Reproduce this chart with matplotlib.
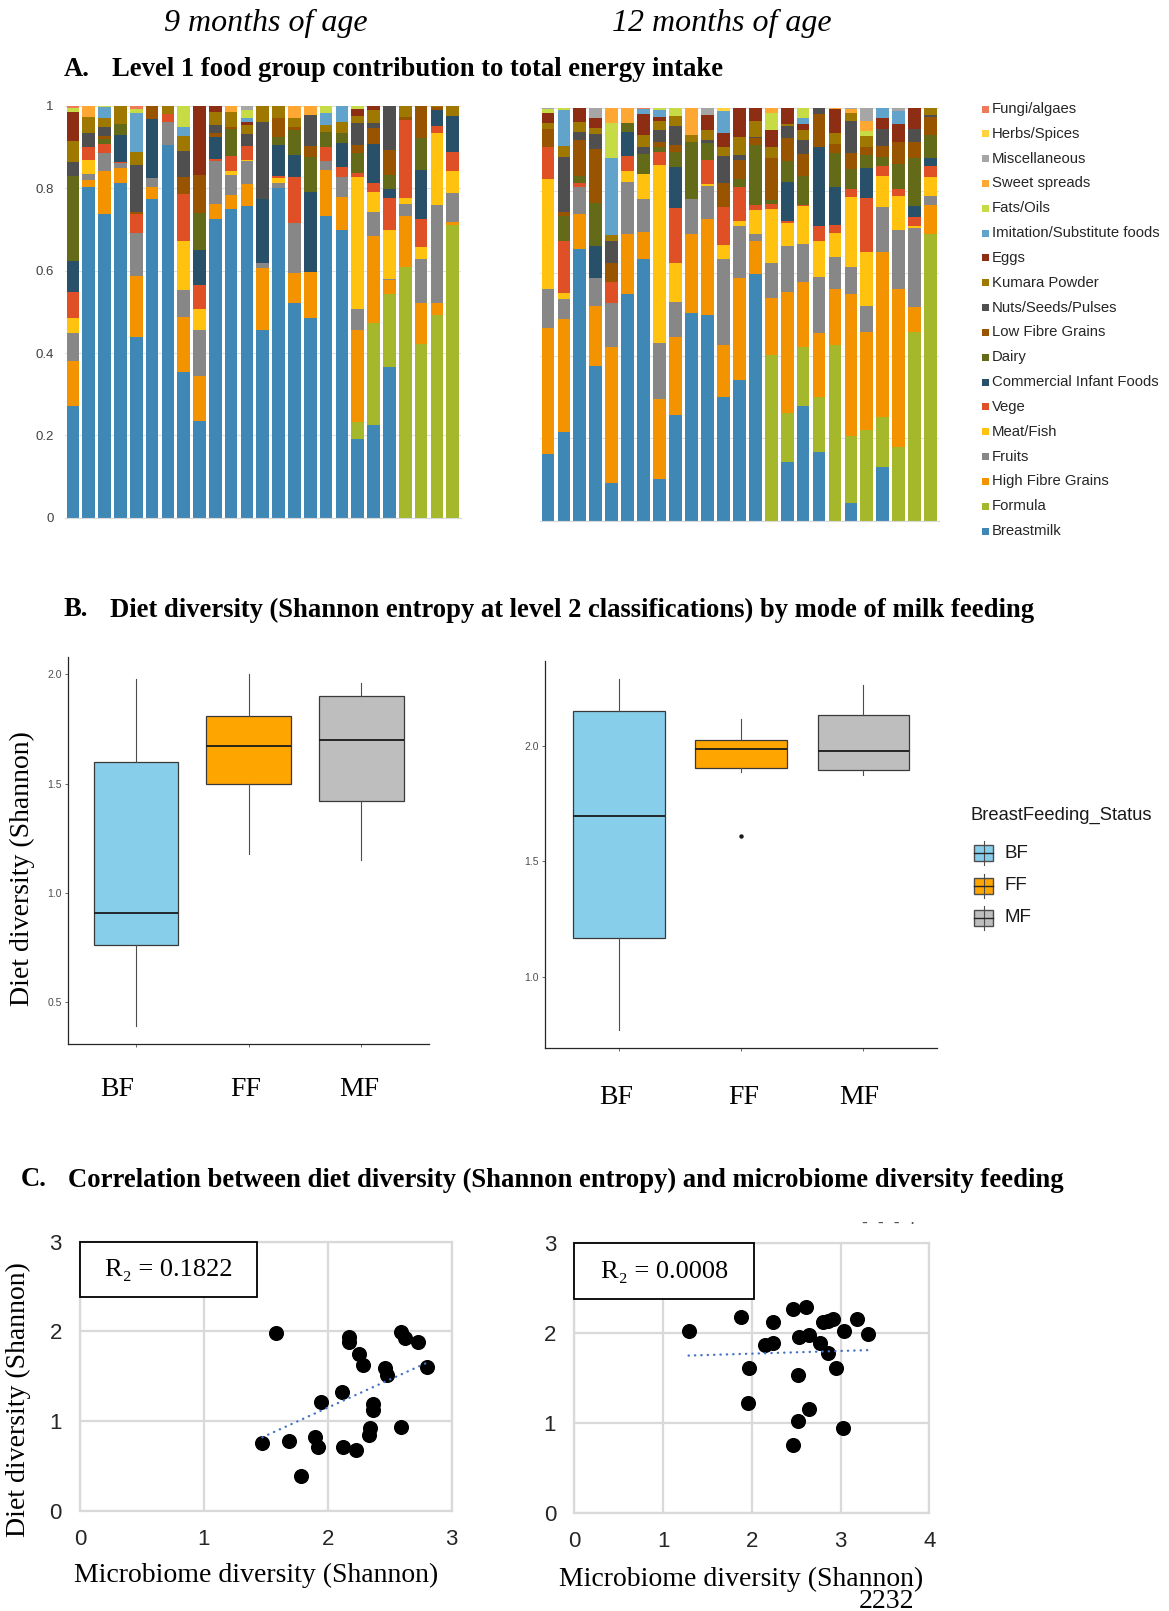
import matplotlib.pyplot as plt
from matplotlib.patches import Rectangle
import numpy as np

W, H, DPI = 1169, 1611, 100

SERIF = ["Liberation Serif", "DejaVu Serif"]
SANS = ["Liberation Sans", "DejaVu Sans"]

plt.rcParams["font.family"] = SANS

# ---- A. level 1 food group shares of energy intake (bottom of stack first) ----
food_groups = ["Breastmilk", "Formula", "High Fibre Grains", "Fruits", "Meat/Fish", "Vege",
               "Commercial Infant Foods", "Dairy", "Low Fibre Grains", "Nuts/Seeds/Pulses",
               "Kumara Powder", "Eggs", "Imitation/Substitute foods", "Fats/Oils",
               "Sweet spreads", "Miscellaneous", "Herbs/Spices", "Fungi/algaes"]
group_colors = ["#3F87B5", "#A5B82B", "#F49300", "#878787", "#FFC20E", "#E05026",
                "#285069", "#636B18", "#995400", "#4F4F4F",
                "#9E7800", "#8C2D14", "#62A3CC", "#C7DB45",
                "#FFA733", "#A6A6A6", "#FFD23F", "#EE7A5A"]

# 9 months
bm_9m = [.271, .804, .738, .814, .440, .773, .905, .355, .236, .725, .751, .757, .456, .800, .521, .486, .734, .700, .191, .225, .367, 0, 0, 0, 0]
fo_9m = [0, 0, 0, 0, 0, 0, 0, 0, 0, 0, 0, 0, 0, 0, 0, 0, 0, 0, .041, .247, .176, .610, .423, .492, .711]
hf_9m = [.110, .016, .104, .035, .147, .031, 0, .133, .108, .036, .033, .053, .151, 0, .074, .112, .111, .078, .224, .212, .034, .123, .099, .029, .008]
fr_9m = [.068, .015, .043, .012, .105, .022, .057, .065, .112, .106, .048, .056, .012, .012, .122, 0, .022, .050, .052, .058, .004, .028, .106, .239, .069]
mf_9m = [.035, .034, 0, 0, 0, 0, 0, .119, .050, 0, .011, .004, 0, .014, 0, 0, 0, 0, .319, .048, .118, .015, .030, .175, .054]
vg_9m = [.065, .032, .022, .004, .046, 0, .019, .114, .059, .004, .036, .033, 0, .004, .110, 0, .033, .023, .011, .022, .078, .190, .067, .016, .047]
ci_9m = [.075, 0, 0, .065, 0, .142, 0, 0, .085, .054, 0, 0, .154, .075, .054, .194, 0, .058, 0, .096, .021, 0, .120, .039, .087]
da_9m = [.206, 0, .012, .026, 0, 0, 0, 0, .089, 0, .064, 0, 0, .020, .061, .085, .038, .025, .049, 0, .034, 0, .078, 0, 0]
lf_9m = [0, 0, .009, 0, .005, .032, 0, .042, .093, .009, .005, 0, 0, .045, .008, .026, 0, 0, .018, .038, .061, .008, .077, .007, 0]
ns_9m = [.035, .033, .022, 0, .114, 0, 0, .063, 0, .020, 0, .028, .189, 0, 0, .075, 0, 0, .053, .012, .107, 0, 0, 0, 0]
kp_9m = [.050, .040, .022, .044, .032, 0, .019, .035, 0, .032, .038, .024, .038, .030, .020, 0, .016, .028, .018, .032, 0, .026, 0, .003, .024]
eg_9m = [.071, 0, 0, 0, 0, 0, 0, 0, .168, .014, 0, .005, 0, 0, 0, 0, 0, 0, .016, .010, 0, 0, 0, 0, 0]
im_9m = [0, 0, .025, 0, .093, 0, 0, .024, 0, 0, 0, .012, 0, 0, 0, 0, .030, .038, 0, 0, 0, 0, 0, 0, 0]
fa_9m = [.008, 0, .003, 0, .010, 0, 0, .050, 0, 0, 0, .018, 0, 0, 0, 0, .016, 0, .008, 0, 0, 0, 0, 0, 0]
ss_9m = [0, .026, 0, 0, 0, 0, 0, 0, 0, 0, .014, 0, 0, 0, .030, .022, 0, 0, 0, 0, 0, 0, 0, 0, 0]
mi_9m = [0, 0, 0, 0, 0, 0, 0, 0, 0, 0, 0, .010, 0, 0, 0, 0, 0, 0, 0, 0, 0, 0, 0, 0, 0]
hs_9m = [0] * 25
fu_9m = [.006, 0, 0, 0, .008, 0, 0, 0, 0, 0, 0, 0, 0, 0, 0, 0, 0, 0, 0, 0, 0, 0, 0, 0, 0]

# 12 months
bm_12m = [.162, .216, .660, .376, .092, .549, .635, .102, .256, .504, .499, .299, .341, .598, 0, .143, .278, .167, 0, .042, 0, .131, 0, 0, 0]
fo_12m = [0, 0, 0, 0, 0, 0, 0, 0, 0, 0, 0, 0, 0, 0, .403, .119, .142, .132, .426, .163, .220, .121, .179, .458, .694]
hf_12m = [.306, .272, .084, .145, .328, .146, .066, .192, .189, .191, .232, .126, .247, .080, .136, .293, .160, .157, .135, .345, .238, .399, .384, .059, .072]
fr_12m = [.095, .050, .064, .068, .109, .127, .078, .136, .085, .084, .081, .209, .127, .017, .087, .110, .090, .136, .078, .064, .063, .109, .142, .192, .022]
mf_12m = [.265, .013, 0, 0, 0, .027, .061, .433, .094, 0, .004, .035, .012, .058, .129, .058, .092, .086, .058, .170, .131, .076, .082, .006, .045]
vg_12m = [.077, .128, .010, 0, .050, .035, 0, .032, .135, 0, .059, .091, .081, .013, .012, .004, .004, .037, .020, .020, .131, .024, .018, .021, .026]
ci_12m = [0, 0, 0, .076, 0, .059, 0, 0, .098, 0, 0, 0, 0, 0, 0, .095, 0, .190, .091, 0, .073, 0, 0, .028, .020]
da_12m = [0, .060, .018, .105, 0, .021, .049, .012, .038, .140, .042, 0, .020, .145, .011, .051, .070, 0, .083, .049, .031, .023, .060, .115, .056]
lf_12m = [.044, .010, .087, .131, .045, 0, 0, .012, .016, 0, 0, .060, .047, .016, .102, .054, .053, .081, .022, .038, .020, .026, .053, .039, .045]
ns_12m = [0, .134, .020, .036, .055, 0, .016, .028, .045, 0, .006, .064, .011, .004, 0, .030, .033, .014, 0, .078, 0, .040, 0, .031, .004]
kp_12m = [.015, .026, .023, .016, .014, 0, .030, .021, .025, .016, .024, .023, .045, .037, .025, .004, .025, 0, .028, .020, .026, 0, 0, 0, .016]
eg_12m = [.025, 0, .034, .024, 0, 0, .051, .012, 0, 0, .037, .032, .069, .032, .042, .039, .014, 0, .057, 0, 0, .027, .043, .051, 0]
im_12m = [0, .088, 0, 0, .187, 0, .012, .016, 0, 0, 0, .055, 0, 0, 0, 0, .015, 0, 0, 0, 0, .024, .033, 0, 0]
fa_12m = [.009, .003, 0, 0, .085, 0, 0, .004, .019, 0, 0, 0, 0, 0, .041, 0, .024, 0, 0, 0, .013, 0, 0, 0, 0]
ss_12m = [0, 0, 0, 0, .035, .036, 0, 0, 0, .065, 0, 0, 0, 0, .012, 0, 0, 0, .002, .009, .024, 0, 0, 0, 0]
mi_12m = [.002, 0, 0, .023, 0, 0, 0, 0, 0, 0, .016, 0, 0, 0, 0, 0, 0, 0, 0, .002, .030, 0, .006, 0, 0]
hs_12m = [0, 0, 0, 0, 0, 0, 0, 0, 0, 0, 0, .006, 0, 0, 0, 0, 0, 0, 0, 0, 0, 0, 0, 0, 0]
fu_12m = [0, 0, 0, 0, 0, 0, .002, 0, 0, 0, 0, 0, 0, 0, 0, 0, 0, 0, 0, 0, 0, 0, 0, 0, 0]

# ---- B. diet diversity by mode of milk feeding ----
feed_groups = ["BF", "FF", "MF"]
feed_colors = ["#87CEEB", "#FFA500", "#BEBEBE"]

whislo_9m = [0.39, 1.18, 1.15]
q1_9m = [0.76, 1.50, 1.42]
med_9m = [0.91, 1.67, 1.70]
q3_9m = [1.60, 1.81, 1.90]
whishi_9m = [1.98, 2.00, 1.96]
fliers_9m = [[], [], []]

whislo_12m = [0.77, 1.885, 1.875]
q1_12m = [1.17, 1.905, 1.895]
med_12m = [1.695, 1.985, 1.978]
q3_12m = [2.15, 2.023, 2.131]
whishi_12m = [2.29, 2.117, 2.264]
fliers_12m = [[], [1.611], []]

# ---- C. microbiome diversity vs diet diversity ----
micro_9m = [1.582, 1.472, 1.690, 1.784, 1.897, 1.924, 1.942, 2.117, 2.125, 2.228, 2.168, 2.168, 2.254,
            2.287, 2.368, 2.362, 2.343, 2.333, 2.462, 2.480, 2.591, 2.623, 2.725, 2.798, 2.588]
diet_9m = [1.978, 0.751, 0.781, 0.387, 0.825, 0.706, 1.216, 1.323, 0.706, 0.680, 1.941, 1.885, 1.747,
           1.621, 1.190, 1.123, 0.918, 0.844, 1.595, 1.513, 1.996, 1.922, 1.885, 1.599, 0.929]
micro_12m = [1.288, 1.878, 2.242, 2.148, 2.235, 1.972, 1.953, 2.468, 2.610, 2.531, 2.648, 2.768, 2.806,
             2.862, 2.918, 2.862, 2.944, 3.038, 3.189, 3.313, 2.524, 2.648, 2.524, 2.468, 3.023]
diet_12m = [2.020, 2.183, 2.128, 1.868, 1.894, 1.612, 1.218, 2.269, 2.295, 1.961, 1.979, 1.886, 2.120,
            2.139, 2.157, 1.775, 1.612, 2.020, 2.161, 1.990, 1.530, 1.151, 1.025, 0.754, 0.947]
r2_labels = ["0.1822", "0.0008"]


fig = plt.figure(figsize=(W / DPI, H / DPI), dpi=DPI)


def axes_px(left, top, right, bottom):
    return fig.add_axes([left / W, 1 - bottom / H, (right - left) / W, (bottom - top) / H])


def stacked_bars(ax, shares, show_labels):
    x = np.arange(len(shares[0]))
    base = np.zeros(len(x))
    for values, color in zip(shares, group_colors):
        ax.bar(x, values, width=0.8, bottom=base, color=color, linewidth=0)
        base += np.array(values)
    ax.set_xlim(-0.5, len(x) - 0.5)
    ax.set_ylim(0, 1)
    ax.set_yticks([0, 0.2, 0.4, 0.6, 0.8, 1.0])
    ax.set_yticklabels(["0", "0.2", "0.4", "0.6", "0.8", "1"] if show_labels else [])
    ax.set_xticks([])
    ax.grid(axis="y", color="#e0e0e0", linewidth=0.8)
    ax.set_axisbelow(True)
    for side in ["top", "right", "left"]:
        ax.spines[side].set_visible(False)
    ax.spines["bottom"].set_color("#d9d9d9")
    ax.tick_params(axis="y", length=0, pad=8, labelsize=9.5, labelcolor="#404040")


shares_9m = [bm_9m, fo_9m, hf_9m, fr_9m, mf_9m, vg_9m, ci_9m, da_9m, lf_9m, ns_9m,
             kp_9m, eg_9m, im_9m, fa_9m, ss_9m, mi_9m, hs_9m, fu_9m]
shares_12m = [bm_12m, fo_12m, hf_12m, fr_12m, mf_12m, vg_12m, ci_12m, da_12m, lf_12m, ns_12m,
              kp_12m, eg_12m, im_12m, fa_12m, ss_12m, mi_12m, hs_12m, fu_12m]

stacked_bars(axes_px(65, 106, 460.6, 517.7), shares_9m, True)
stacked_bars(axes_px(540, 108.3, 938.6, 520.7), shares_12m, False)


def box_panel(ax, whislo, q1, med, q3, whishi, fliers, ylim, yticks):
    stats = [dict(whislo=a, q1=b, med=c, q3=d, whishi=e, fliers=f)
             for a, b, c, d, e, f in zip(whislo, q1, med, q3, whishi, fliers)]
    bp = ax.bxp(stats, positions=[1, 2, 3], widths=0.75, patch_artist=True, showcaps=False,
                boxprops=dict(edgecolor="#3a3a3a", linewidth=0.9),
                medianprops=dict(color="#1a1a1a", linewidth=1.3),
                whiskerprops=dict(color="#4d4d4d", linewidth=0.8),
                flierprops=dict(marker="o", markersize=3.2, markerfacecolor="#1a1a1a",
                                markeredgecolor="none"))
    for patch, color in zip(bp["boxes"], feed_colors):
        patch.set_facecolor(color)
    ax.set_xlim(0.4, 3.6)
    ax.set_ylim(*ylim)
    ax.set_yticks(yticks)
    ax.set_yticklabels([f"{t:.1f}" for t in yticks])
    ax.set_xticks([1, 2, 3])
    ax.set_xticklabels([])
    for side in ["top", "right"]:
        ax.spines[side].set_visible(False)
    for side in ["left", "bottom"]:
        ax.spines[side].set_color("#262626")
        ax.spines[side].set_linewidth(0.9)
    ax.tick_params(length=2.5, width=0.6, color="#4d4d4d", labelsize=7.5, labelcolor="#4d4d4d", pad=2)


box_panel(axes_px(68.3, 656.7, 429, 1044), whislo_9m, q1_9m, med_9m, q3_9m, whishi_9m, fliers_9m,
          (0.309, 2.08), [0.5, 1.0, 1.5, 2.0])
box_panel(axes_px(545.4, 660.5, 936.8, 1047.7), whislo_12m, q1_12m, med_12m, q3_12m, whishi_12m,
          fliers_12m, (0.694, 2.368), [1.0, 1.5, 2.0])


def scatter_panel(ax, x, y, xmax, r2):
    ax.scatter(x, y, s=118, color="black", zorder=3, clip_on=False, linewidths=0)
    coef = np.polyfit(x, y, 1)
    xs = np.array([min(x), max(x)])
    ax.plot(xs, np.polyval(coef, xs), color="#4472C4", linewidth=1.7,
            linestyle=(0, (0.1, 2.6)), dash_capstyle="round", zorder=4)
    ax.set_xlim(0, xmax)
    ax.set_ylim(0, 3)
    ax.set_xticks(range(xmax + 1))
    ax.set_yticks(range(4))
    ax.grid(color="#d9d9d9", linewidth=1.6)
    ax.set_axisbelow(True)
    for side in ax.spines.values():
        side.set_color("#d9d9d9")
        side.set_linewidth(1.6)
    ax.tick_params(length=0, labelsize=16, labelcolor="#262626", pad=13)
    box_w = 1.426 / xmax if xmax == 3 else 0.507
    ax.add_patch(Rectangle((0, 0.793), box_w, 0.207, transform=ax.transAxes, facecolor="white",
                           edgecolor="black", linewidth=1.3, zorder=5, clip_on=False))
    ax.text(box_w / 2, 0.895, "R\u2082 = " + r2, transform=ax.transAxes, ha="center", va="center",
            fontsize=19, family=SERIF, zorder=6)


scatter_panel(axes_px(80, 1241.7, 451.7, 1510.7), micro_9m, diet_9m, 3, r2_labels[0])
scatter_panel(axes_px(574.3, 1243.3, 929.3, 1512.7), micro_12m, diet_12m, 4, r2_labels[1])

# overlay in pixel coordinates for headings, labels and legends
ov = fig.add_axes([0, 0, 1, 1])
ov.set_xlim(0, W)
ov.set_ylim(H, 0)
ov.axis("off")

ov.text(265.5, 23, "9 months of age", ha="center", va="center", fontsize=23, style="italic", family=SERIF)
ov.text(722, 23, "12 months of age", ha="center", va="center", fontsize=23, style="italic", family=SERIF)

heads = [(64, 112, 69, "A.", "Level 1 food group contribution to total energy intake"),
         (64, 110, 610, "B.", "Diet diversity (Shannon entropy at level 2 classifications) by mode of milk feeding"),
         (20.5, 68, 1180, "C.", "Correlation between diet diversity (Shannon entropy) and microbiome diversity feeding")]
for x_letter, x_text, y, letter, text in heads:
    ov.text(x_letter, y, letter, ha="left", va="center", fontsize=19.2, weight="bold", family=SERIF)
    ov.text(x_text, y, text, ha="left", va="center", fontsize=19.2, weight="bold", family=SERIF)

# food group legend, top entry is the last series
for i, (name, color) in enumerate(zip(food_groups[::-1], group_colors[::-1])):
    y = 109 + i * 24.83
    ov.add_patch(Rectangle((981.5, y - 3.5), 7, 7, facecolor=color, edgecolor="none"))
    ov.text(991.5, y, name, ha="left", va="center", fontsize=10.7, color="#262626")

# box plot axis text
ov.text(22, 869, "Diet diversity (Shannon)", rotation=90, ha="center", va="center", fontsize=20, family=SERIF)
for x, label in zip([117, 245.5, 359.5], feed_groups):
    ov.text(x, 1090, label, ha="center", va="center", fontsize=20, family=SERIF)
for x, label in zip([616, 744, 859], feed_groups):
    ov.text(x, 1097, label, ha="center", va="center", fontsize=20, family=SERIF)

# feeding status legend
ov.text(971, 815, "BreastFeeding_Status", ha="left", va="center", fontsize=13.2, color="#1a1a1a")
for y, label, color in zip([853, 885.5, 918], feed_groups, feed_colors):
    ov.plot([983.5, 983.5], [y - 12, y + 12], color="#4d4d4d", linewidth=0.8)
    ov.add_patch(Rectangle((974, y - 8), 19, 16, facecolor=color, edgecolor="#4d4d4d", linewidth=1.0))
    ov.plot([974, 993], [y, y], color="#262626", linewidth=1.0)
    ov.text(1005, y, label, ha="left", va="center", fontsize=13.5, color="#1a1a1a")

# scatter axis text
ov.text(18.5, 1400, "Diet diversity (Shannon)", rotation=90, ha="center", va="center", fontsize=20, family=SERIF)
ov.text(256, 1575, "Microbiome diversity (Shannon)", ha="center", va="center", fontsize=20, family=SERIF)
ov.text(741, 1579, "Microbiome diversity (Shannon)", ha="center", va="center", fontsize=20, family=SERIF)

ov.text(889, 1224, "-  -  -  \u00b7", ha="center", va="center", fontsize=13, color="#555555")
ov.text(887, 1589, "2232", ha="center", va="top", fontsize=20, family=SERIF)

fig.savefig("out.png", dpi=DPI)
